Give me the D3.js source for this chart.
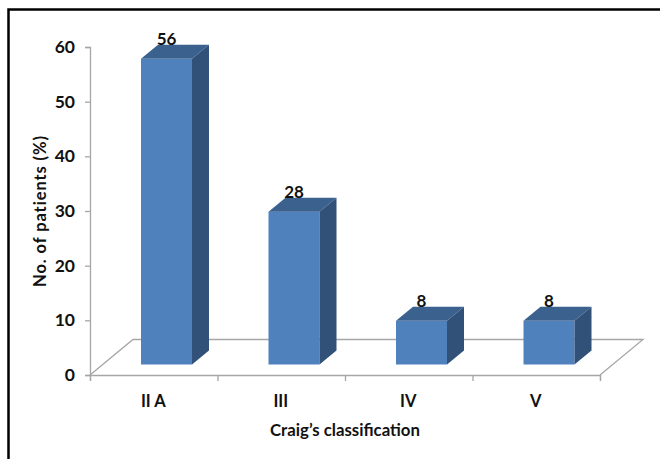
<!DOCTYPE html>
<html>
<head>
<meta charset="utf-8">
<script src="https://cdn.jsdelivr.net/npm/d3@7"></script>
<style>
  html, body { margin: 0; padding: 0; background: #fff; }
  svg { display: block; }
  text { font-family: Lato, "Open Sans", sans-serif; font-weight: 700; fill: #111; }
</style>
</head>
<body>
<svg id="chart" width="660" height="459"></svg>
<script>
var categories = ["II A", "III", "IV", "V"];
var values = [56, 28, 8, 8];
var yTicks = [0, 10, 20, 30, 40, 50, 60];

var svg = d3.select("#chart");

// left/bottom axis plane, the bars sit further back by (barDx, barDy)
var x = d3.scaleBand().domain(categories).range([90, 600]);
var y = d3.scaleLinear().domain([0, 60]).range([375, 47]);
var floorDx = 43, floorDy = -35.5;
var barDx = 12.75, barDy = -10.5;
var depth = 17, rise = 14;
var barW = 51;

// frame
svg.append("path")
  .attr("d", "M8.5,459V9.5H660")
  .attr("fill", "none").attr("stroke", "#000").attr("stroke-width", 2.5);

// floor
var x0 = x.range()[0], x1 = x.range()[1], y0 = y(0);
svg.append("path")
  .attr("d", d3.line()([[x0, y0], [x0 + floorDx, y0 + floorDy], [x1 + floorDx, y0 + floorDy], [x1, y0]]))
  .attr("fill", "none").attr("stroke", "#a6a6a6").attr("stroke-width", 1.3);

// axes
var yAxis = d3.axisLeft(y).tickValues(yTicks).tickSize(5).tickPadding(10);
var gy = svg.append("g").attr("transform", "translate(" + x0 + ",0)").call(yAxis);
var xAxis = d3.axisBottom(d3.scaleLinear().domain([0, categories.length]).range([x0, x1]))
  .ticks(categories.length).tickSize(6).tickFormat("");
var gx = svg.append("g").attr("transform", "translate(0," + y0 + ")").call(xAxis);
svg.selectAll(".domain, .tick line").attr("stroke", "#a6a6a6").attr("stroke-width", 1.3);
gy.selectAll("text").style("font-size", "17.5px").style("font-family", "Lato").style("font-weight", 700).attr("fill", "#111");

// category labels
svg.selectAll("text.cat").data(categories).enter().append("text")
  .attr("class", "cat")
  .attr("x", function(d) { return x(d) + x.bandwidth() / 2 - 0.5; })
  .attr("y", 407)
  .attr("text-anchor", "middle")
  .style("font-size", "16.5px")
  .text(function(d) { return d; });

// bars
var bars = svg.selectAll("g.bar").data(categories).enter().append("g").attr("class", "bar");
function barLeft(d) { return x(d) + (x.bandwidth() - barW) / 2 + barDx; }
var base = y0 + barDy;
var scaleH = (y(0) - y(60)) / 60 * 0.9985;
function barTop(i) { return base - values[i] * scaleH; }

bars.append("rect")
  .attr("x", barLeft)
  .attr("y", function(d, i) { return barTop(i); })
  .attr("width", barW)
  .attr("height", function(d, i) { return base - barTop(i); })
  .attr("fill", "#4f81bd");
bars.append("path")
  .attr("fill", "#3b618f")
  .attr("d", function(d, i) {
    var l = barLeft(d), t = barTop(i);
    return d3.line()([[l, t], [l + depth, t - rise], [l + barW + depth, t - rise], [l + barW, t]]) + "Z";
  });
bars.append("path")
  .attr("fill", "#315178")
  .attr("d", function(d, i) {
    var r = barLeft(d) + barW, t = barTop(i);
    return d3.line()([[r, t], [r + depth, t - rise], [r + depth, base - rise], [r, base]]) + "Z";
  });

// value labels
bars.append("text")
  .attr("x", function(d) { return barLeft(d) + barW / 2; })
  .attr("y", function(d, i) { return barTop(i) - 14; })
  .attr("text-anchor", "middle")
  .style("font-size", "17px")
  .text(function(d, i) { return values[i]; });

// axis titles
svg.append("text")
  .attr("transform", "translate(46,211) rotate(-90)")
  .attr("text-anchor", "middle")
  .style("font-size", "16.5px")
  .style("letter-spacing", "0.9px")
  .text("No. of patients (%)");
svg.append("text")
  .attr("x", 345).attr("y", 436)
  .attr("text-anchor", "middle")
  .style("font-size", "16.8px")
  .text("Craig\u2019s classification");
</script>
</body>
</html>
